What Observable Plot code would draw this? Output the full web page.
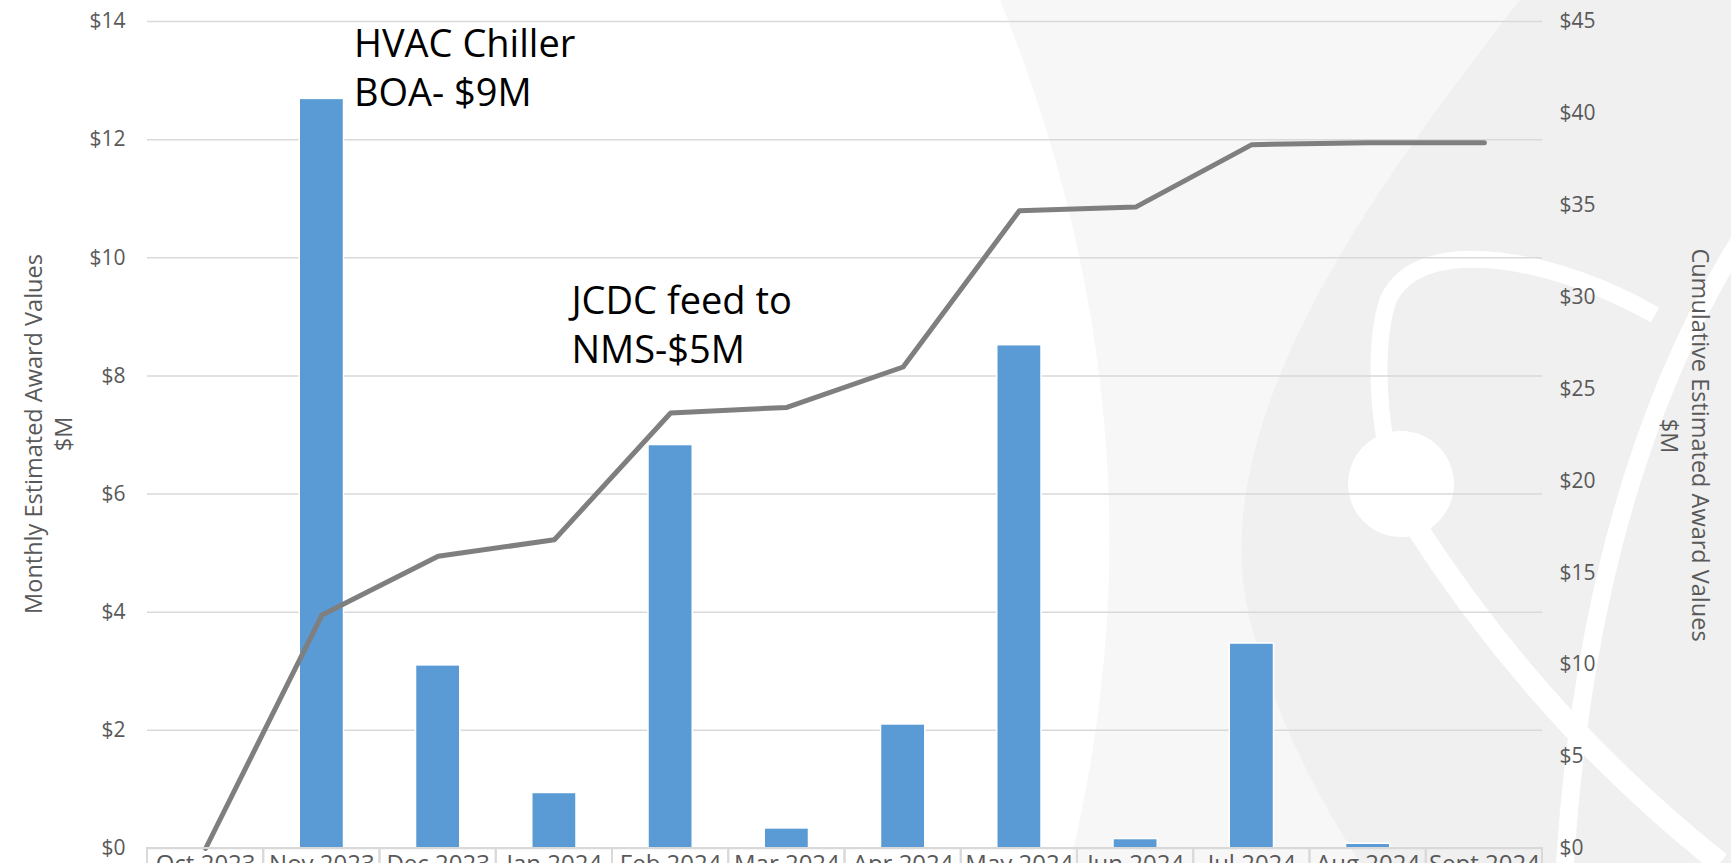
<!DOCTYPE html>
<html>
<head>
<meta charset="utf-8">
<script src="https://cdn.jsdelivr.net/npm/d3@7"></script>
<script src="https://cdn.jsdelivr.net/npm/@observablehq/plot@0.6"></script>
<style>
  html, body { margin: 0; padding: 0; background: #ffffff; overflow: hidden; }
  #wrap { position: relative; width: 1731px; height: 863px; overflow: hidden; font-family: "Open Sans", sans-serif; }
  #wrap > svg { position: absolute; left: 0; top: 0; }
</style>
</head>
<body>
<div id="wrap">
  <svg id="bg" width="1731" height="863" viewBox="0 0 1731 863">
    <rect x="0" y="0" width="1731" height="863" fill="#ffffff"/>
    <path d="M1000,0 Q1175,432 1070,863 L1731,863 L1731,0 Z" fill="#f7f7f7"/>
    <path d="M1520,0 C1380,180 1200,420 1250,620 C1275,720 1320,800 1360,863 L1731,863 L1731,0 Z" fill="#f0f0f0"/>
    <path d="M1655,315 C1560,260 1420,230 1388,300 C1375,340 1378,400 1385,440" fill="none" stroke="#ffffff" stroke-width="17"/>
    <circle cx="1401" cy="484" r="53" fill="#ffffff"/>
    <path d="M1415,525 Q1540,720 1720,863" fill="none" stroke="#ffffff" stroke-width="22"/>
    <path d="M1740,240 Q1590,480 1565,863" fill="none" stroke="#ffffff" stroke-width="18"/>
  </svg>
</div>
<script>
// ---- data ----
const months = ["Oct 2023","Nov 2023","Dec 2023","Jan 2024","Feb 2024","Mar 2024","Apr 2024","May 2024","Jun 2024","Jul 2024","Aug 2024","Sept 2024"];
const monthlyValues = [0, 12.69, 3.10, 0.94, 6.83, 0.34, 2.10, 8.52, 0.16, 3.47, 0.08, 0];
const cumulativeValues = [0, 12.7, 15.9, 16.8, 23.7, 24.0, 26.2, 34.7, 34.9, 38.3, 38.4, 38.4];
const leftTicks = [0, 2, 4, 6, 8, 10, 12, 14];
const rightTicks = [0, 5, 10, 15, 20, 25, 30, 35, 40, 45];
const leftMax = 14;
const rightMax = 45;
const annotationHVAC = [{month: "Nov 2023", value: 13.98, text: "HVAC Chiller\nBOA- $9M"}];
const annotationJCDC = [{month: "Jan 2024", value: 9.63, text: "JCDC feed to\nNMS-$5M"}];
const leftTitle = ["Monthly Estimated Award Values", "$M"];
const rightTitle = ["Cumulative Estimated Award Values", "$M"];

const rows = months.map((m, i) => ({month: m, monthly: monthlyValues[i], cum: cumulativeValues[i]}));
const toLeft = v => v * leftMax / rightMax;

const chart = Plot.plot({
  width: 1731,
  height: 863,
  marginLeft: 147,
  marginRight: 189,
  marginTop: 21,
  marginBottom: 15,
  style: {background: "transparent", fontFamily: "'Open Sans', sans-serif", fontSize: "21px", color: "#595959"},
  x: {type: "band", domain: months, padding: 0, round: false},
  y: {domain: [0, leftMax]},
  marks: [
    Plot.gridY(leftTicks, {stroke: "#d9d9d9", strokeOpacity: 1, strokeWidth: 1.5}),
    Plot.barY(rows, {x: "month", y: "monthly", fill: "#5b9bd5", stroke: "#ffffff", strokeWidth: 1.5, insetLeft: 36, insetRight: 36}),
    Plot.line(rows, {x: "month", y: d => toLeft(d.cum), stroke: "#7f7f7f", strokeWidth: 5, strokeLinecap: "round", strokeLinejoin: "round"}),
    Plot.barY(months, {x: d => d, y1: 0, y2: 0, insetBottom: -40, fill: "none", stroke: "#d9d9d9", strokeWidth: 2}),
    Plot.axisY(leftTicks, {anchor: "left", tickSize: 0, tickPadding: 22, tickFormat: d => "$" + d, label: null}),
    Plot.axisY(rightTicks.map(toLeft), {anchor: "right", tickSize: 0, tickPadding: 17, tickFormat: v => "$" + Math.round(v * rightMax / leftMax), label: null}),
    Plot.axisX({tickSize: 0, tickPadding: 6, fontSize: 24, label: null}),
    Plot.text(annotationHVAC, {x: "month", y: "value", text: "text", textAnchor: "start", lineAnchor: "top", dx: 32, fontSize: 38, lineHeight: 1.28, fill: "#000000"}),
    Plot.text(annotationJCDC, {x: "month", y: "value", text: "text", textAnchor: "start", lineAnchor: "top", dx: 17, fontSize: 38, lineHeight: 1.28, fill: "#000000"})
  ]
});
document.getElementById("wrap").appendChild(chart);

// axis titles overlay
const ns = "http://www.w3.org/2000/svg";
const ov = document.createElementNS(ns, "svg");
ov.setAttribute("width", 1731); ov.setAttribute("height", 863);
function addText(str, x, y, rot) {
  const t = document.createElementNS(ns, "text");
  t.setAttribute("transform", `translate(${x},${y}) rotate(${rot})`);
  t.setAttribute("text-anchor", "middle");
  t.setAttribute("dy", "0.35em");
  t.setAttribute("fill", "#595959");
  t.setAttribute("font-family", "'Open Sans', sans-serif");
  t.setAttribute("font-size", "23.5");
  t.textContent = str;
  ov.appendChild(t);
}
addText(leftTitle[0], 34, 434, -90);
addText(leftTitle[1], 64, 434, -90);
addText(rightTitle[0], 1700, 445, 90);
addText(rightTitle[1], 1669, 436, 90);
document.getElementById("wrap").appendChild(ov);
</script>
</body>
</html>
